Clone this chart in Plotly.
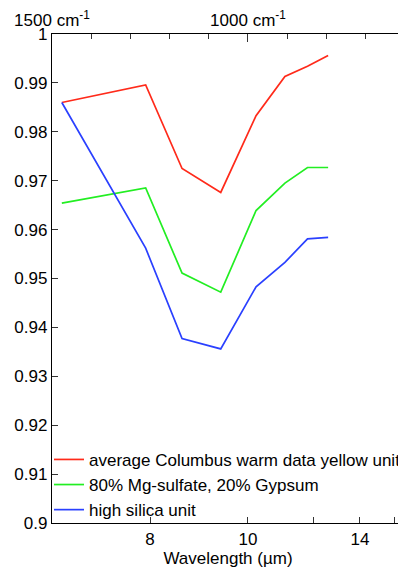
import numpy as np
import plotly.graph_objects as go

# THEMIS band centres (µm)
wavelength_um = [6.78, 7.93, 8.56, 9.35, 10.21, 11.04, 11.79, 12.57]

series_names = [
    "average Columbus warm data yellow unit",
    "80% Mg-sulfate, 20% Gypsum",
    "high silica unit",
]
columbus_yellow = [0.9860, 0.9896, 0.9725, 0.9676, 0.9833, 0.9913, 0.9934, 0.9956]
mg_sulfate_gypsum = [0.9654, 0.9685, 0.9511, 0.9472, 0.9639, 0.9695, 0.9727, 0.9727]
high_silica = [0.9860, 0.9562, 0.9377, 0.9356, 0.9483, 0.9533, 0.9581, 0.9584]
colors = ["#ff2a1a", "#22ee22", "#2a40ff"]

y_ticks = [0.90, 0.91, 0.92, 0.93, 0.94, 0.95, 0.96, 0.97, 0.98, 0.99, 1.00]
y_ticktext = ["0.9", "0.91", "0.92", "0.93", "0.94", "0.95", "0.96", "0.97", "0.98", "0.99", "1"]

bottom_ticks_um = [8, 10, 12, 14, 16]
bottom_ticktext = ["8", "10", "", "14", ""]

top_major_cm = [1500, 1000]
top_major_text = ["1500 cm<sup>-1</sup>", "1000 cm<sup>-1</sup>"]
top_minor_cm = [1400, 1300, 1200, 1100, 900, 800, 700]

x_range_cm = [1500, 602]

wn = 10000.0 / np.array(wavelength_um)

fig = go.Figure()
for name, vals, c in zip(series_names, [columbus_yellow, mg_sulfate_gypsum, high_silica], colors):
    fig.add_trace(go.Scatter(x=wn, y=vals, mode="lines", name=name,
                             line=dict(color=c, width=1.7)))
# invisible carrier so the top (wavenumber) axis is drawn
fig.add_trace(go.Scatter(x=wn, y=columbus_yellow, xaxis="x2", mode="lines",
                         line=dict(width=0, color="rgba(0,0,0,0)"),
                         showlegend=False, hoverinfo="skip"))

font = dict(family="Liberation Sans, Arial, sans-serif", size=17, color="black")

# page body has an 8px margin, so the figure is sized/offset accordingly
fig.update_layout(
    width=398, height=568,
    margin=dict(l=44, r=1.5, t=26, b=53),
    paper_bgcolor="white", plot_bgcolor="white",
    font=font,
    showlegend=True,
    legend=dict(x=0.0, y=-0.01, xanchor="left", yanchor="bottom",
                bgcolor="rgba(0,0,0,0)", font=font, tracegroupgap=0),
    xaxis=dict(
        range=x_range_cm, showgrid=False, zeroline=False, automargin=False,
        tickmode="array",
        tickvals=list(10000.0 / np.array(bottom_ticks_um)),
        ticktext=bottom_ticktext,
        ticks="inside", ticklen=6, tickcolor="#333", tickwidth=1,
        showline=True, linecolor="black", linewidth=1.3,
        title=dict(text="Wavelength (µm)", standoff=4, font=font),
    ),
    xaxis2=dict(
        overlaying="x", side="top", range=x_range_cm, automargin=False,
        showgrid=False, zeroline=False,
        tickmode="array", tickvals=top_major_cm, ticktext=top_major_text,
        ticks="inside", ticklen=8, tickcolor="#333", tickwidth=1,
        minor=dict(tickmode="array", tickvals=top_minor_cm, ticks="inside",
                   ticklen=5, tickcolor="#333", showgrid=False),
        showline=True, linecolor="black", linewidth=1.3,
    ),
    yaxis=dict(
        range=[0.9, 1.0], showgrid=False, zeroline=False, automargin=False,
        tickmode="array", tickvals=y_ticks, ticktext=y_ticktext,
        ticks="inside", ticklen=6, tickcolor="#333", tickwidth=1,
        showline=True, linecolor="black", linewidth=1.3, mirror="ticks",
    ),
)

fig.write_html("out.html")
